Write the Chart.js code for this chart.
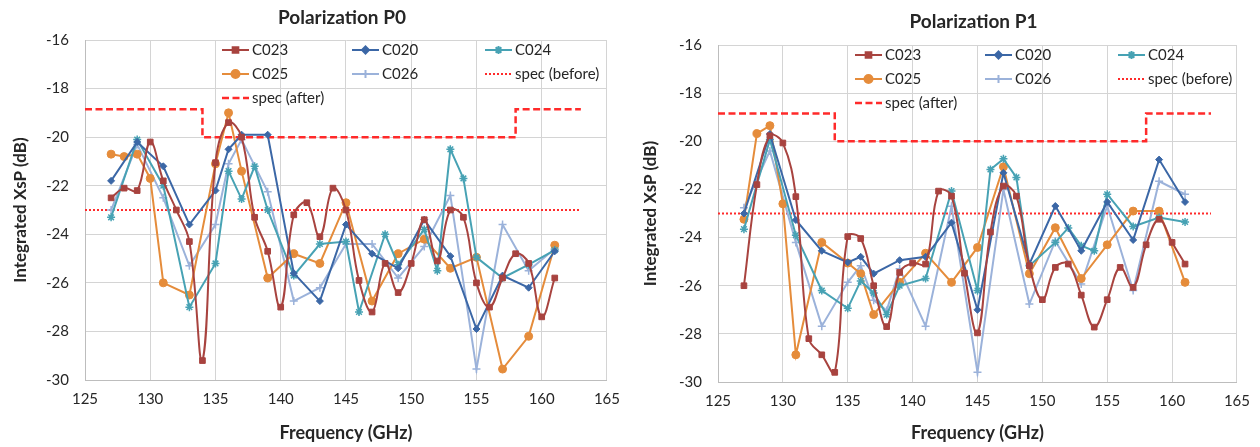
<!DOCTYPE html>
<html>
<head>
<meta charset="utf-8">
<script src="https://cdn.jsdelivr.net/npm/chart.js@4.4.1/dist/chart.umd.min.js"></script>
<style>
    html, body { margin: 0; padding: 0; background: #fff; }
    .panel { position: absolute; top: 0; width: 630px; height: 447px; }
</style>
</head>
<body>
<div class="panel" style="left:0"><canvas id="p0" width="630" height="447"></canvas></div>
<div class="panel" style="left:630px"><canvas id="p1" width="630" height="447"></canvas></div>
<script>
const FREQ_ALL = [127,128,129,130,131,132,133,134,135,136,137,138,139,140,141,142,143,144,145,146,147,148,149,150,151,152,153,154,155,156,157,158,159,160,161];
const X_TICKS = [125, 130, 135, 140, 145, 150, 155, 160, 165];
const Y_TICKS = [-30, -28, -26, -24, -22, -20, -18, -16];

// Polarization P0
const P0_C023 = [-22.5,-22.1,-22.2,-20.2,-21.8,-23.0,-24.3,-29.2,-21.05,-19.4,-20.0,-23.3,-24.7,-27.0,-23.2,-22.7,-24.1,-22.1,-23.0,-25.9,-27.2,-25.2,-26.4,-25.2,-23.4,-25.1,-23.0,-23.3,-26.0,-27.0,-25.8,-24.8,-25.2,-27.4,-25.8];
const P0_C020_X = [127,129,131,133,135,136,137,139,141,143,145,147,149,151,153,155,157,159,161];
const P0_C020 = [-21.8,-20.2,-21.2,-23.6,-22.2,-20.5,-19.9,-19.9,-25.6,-26.75,-23.6,-24.8,-25.4,-23.4,-24.9,-27.9,-25.7,-26.2,-24.7];
const P0_C024_X = [127,129,131,133,135,136,137,138,139,141,143,145,146,148,149,151,152,153,154,155,157,159,161];
const P0_C024 = [-23.3,-20.1,-22.0,-27.0,-25.2,-21.4,-22.55,-21.2,-23.0,-25.7,-24.4,-24.3,-27.2,-24.0,-25.25,-23.8,-25.5,-20.5,-21.7,-24.95,-25.8,-25.25,-24.65];
const P0_C025_X = [127,128,129,130,131,133,135,136,137,139,141,143,145,147,149,151,153,155,157,159,161];
const P0_C025 = [-20.7,-20.8,-20.7,-21.7,-26.0,-26.5,-21.1,-19.0,-21.4,-25.8,-24.8,-25.2,-22.7,-26.75,-24.8,-24.2,-25.4,-24.95,-29.55,-28.2,-24.45];
const P0_C026_X = [127,129,131,133,135,136,137,139,141,143,145,147,149,151,153,155,157,159,161];
const P0_C026 = [-23.0,-20.3,-22.5,-25.3,-23.6,-21.1,-20.1,-22.25,-26.75,-26.2,-24.4,-24.4,-25.8,-24.5,-22.4,-29.55,-23.6,-25.5,-24.6];

// Polarization P1
const P1_C023 = [-26.0,-21.8,-19.77,-20.07,-22.3,-28.2,-28.87,-29.6,-23.96,-24.04,-26.0,-27.7,-25.45,-25.06,-25.1,-22.07,-22.28,-25.48,-27.96,-23.77,-21.86,-22.28,-25.17,-26.58,-25.24,-25.1,-26.39,-27.72,-26.58,-25.24,-26.07,-24.3,-23.24,-24.2,-25.1];
const P1_C020_X = [127,129,131,133,135,136,137,139,141,143,145,147,149,151,153,155,157,159,161];
const P1_C020 = [-23.0,-19.7,-23.27,-24.55,-25.03,-24.8,-25.5,-24.94,-24.8,-23.38,-27.0,-21.31,-25.1,-22.69,-24.55,-22.52,-24.1,-20.76,-22.52];
const P1_C024_X = [127,129,131,133,135,136,137,138,139,141,143,145,146,147,148,149,151,152,153,154,155,157,159,161];
const P1_C024 = [-23.65,-19.93,-23.9,-26.2,-26.94,-25.8,-26.3,-27.2,-26.0,-25.7,-22.07,-26.2,-21.17,-20.73,-21.5,-25.17,-24.2,-23.6,-24.34,-24.55,-22.2,-23.54,-23.17,-23.35];
const P1_C025_X = [127,128,129,130,131,133,135,136,137,139,141,143,145,147,149,151,153,155,157,159,161];
const P1_C025 = [-23.24,-19.68,-19.35,-22.6,-28.87,-24.2,-25.06,-25.5,-27.2,-25.86,-24.65,-25.86,-24.41,-21.06,-25.5,-23.59,-25.7,-24.3,-22.9,-22.9,-25.86];
const P1_C026_X = [127,129,131,133,135,136,137,138,139,141,143,145,147,149,151,153,155,157,159,161];
const P1_C026 = [-22.76,-20.4,-24.2,-27.68,-25.86,-25.17,-26.6,-27.03,-25.3,-27.68,-22.7,-29.59,-22.0,-26.76,-24.14,-25.93,-22.69,-26.2,-21.66,-22.2];

// spec limits (same for both polarizations)
const SPEC_AFTER_X = [125, 134, 134, 158, 158, 163];
const SPEC_AFTER = [-18.85, -18.85, -20, -20, -18.85, -18.85];
const SPEC_BEFORE_X = [125, 163];
const SPEC_BEFORE = [-23, -23];

const FONT = "Lato, 'Open Sans', sans-serif";
const TEXT = '#262626';

const STYLES = {
    C023: { color: '#A8433F', marker: 'rect', radius: 4, tension: 0.4 },
    C020: { color: '#3B67A6', marker: 'rectRot', radius: 3.5, tension: 0 },
    C024: { color: '#47A2B4', marker: 'star', radius: 4, tension: 0 },
    C025: { color: '#E58C3B', marker: 'circle', radius: 4, tension: 0 },
    C026: { color: '#9BB2DA', marker: 'cross', radius: 4, tension: 0 }
};

function toPoints(xs, ys) {
    return xs.map((x, i) => ({ x: x, y: ys[i] }));
}

function seriesDataset(name, xs, ys) {
    const s = STYLES[name];
    return {
        label: name,
        data: toPoints(xs, ys),
        borderColor: s.color,
        backgroundColor: s.color,
        borderWidth: 2,
        pointStyle: s.marker,
        pointRadius: s.radius,
        pointBorderWidth: s.marker === 'star' || s.marker === 'cross' ? 1.5 : 1,
        pointBackgroundColor: s.color,
        pointBorderColor: s.color,
        tension: s.tension
    };
}

function specDatasets() {
    return [
        {
            label: 'spec (before)',
            data: toPoints(SPEC_BEFORE_X, SPEC_BEFORE),
            borderColor: '#FF2A2A',
            borderWidth: 2,
            borderDash: [2, 2],
            pointRadius: 0,
            tension: 0
        },
        {
            label: 'spec (after)',
            data: toPoints(SPEC_AFTER_X, SPEC_AFTER),
            borderColor: '#FF2A2A',
            borderWidth: 2.5,
            borderDash: [7, 3.5],
            pointRadius: 0,
            tension: 0
        }
    ];
}

// legend drawn inside the plot area, 3 columns
const insideLegend = {
    id: 'insideLegend',
    afterDraw(chart) {
        const ctx = chart.ctx;
        const a = chart.chartArea;
        const cols = [137, 267, 400];
        const rows = [10, 34, 58];
        const order = ['C023', 'C020', 'C024', 'C025', 'C026', 'spec (before)', 'spec (after)'];
        ctx.save();
        ctx.font = '15px ' + FONT;
        ctx.textBaseline = 'middle';
        order.forEach((name, i) => {
            const x = a.left + cols[i % 3];
            const y = a.top + rows[Math.floor(i / 3)];
            const ds = chart.data.datasets.find(d => d.label === name);
            ctx.strokeStyle = ds.borderColor;
            ctx.fillStyle = ds.borderColor;
            ctx.lineWidth = ds.borderWidth;
            ctx.setLineDash(ds.borderDash || []);
            ctx.beginPath();
            ctx.moveTo(x, y);
            ctx.lineTo(x + 27, y);
            ctx.stroke();
            ctx.setLineDash([]);
            if (ds.pointRadius) {
                Chart.helpers.drawPoint(ctx, {
                    pointStyle: ds.pointStyle,
                    radius: ds.pointRadius,
                    borderWidth: ds.pointBorderWidth,
                    rotation: 0
                }, x + 13.5, y);
            }
            ctx.fillStyle = TEXT;
            ctx.fillText(name, x + 30, y);
        });
        ctx.restore();
    }
};

const panelTitle = {
    id: 'panelTitle',
    afterDraw(chart) {
        const ctx = chart.ctx;
        const a = chart.chartArea;
        ctx.save();
        ctx.font = 'bold 19px ' + FONT;
        ctx.fillStyle = TEXT;
        ctx.textAlign = 'center';
        ctx.textBaseline = 'middle';
        ctx.fillText(chart.options.panelTitle, (a.left + a.right) / 2 - 4, chart.options.panelTitleY);
        ctx.restore();
    }
};

function makeChart(id, title, layout, sets) {
    const ctx = document.getElementById(id).getContext('2d');
    return new Chart(ctx, {
        type: 'line',
        data: { datasets: sets },
        options: {
            responsive: false,
            animation: false,
            panelTitle: title,
            panelTitleY: layout.titleY,
            layout: { padding: { top: layout.top, right: 17, left: 0, bottom: 0 } },
            plugins: { legend: { display: false }, tooltip: { enabled: false } },
            scales: {
                x: {
                    type: 'linear',
                    min: 125,
                    max: 165,
                    afterBuildTicks: scale => { scale.ticks = X_TICKS.map(v => ({ value: v })); },
                    afterFit: scale => { scale.height = layout.xHeight; },
                    grid: { color: '#d4d4d4', drawTicks: false },
                    border: { color: '#bdbdbd' },
                    ticks: { color: TEXT, font: { family: FONT, size: 15 }, padding: 10 },
                    title: { display: true, text: 'Frequency (GHz)', color: TEXT, font: { family: FONT, size: 18, weight: 'bold' }, padding: { top: 0, bottom: 3 } }
                },
                y: {
                    min: -30,
                    max: -16,
                    afterBuildTicks: scale => { scale.ticks = Y_TICKS.map(v => ({ value: v })); },
                    afterFit: scale => { scale.width = layout.yWidth; },
                    grid: { color: '#d4d4d4', drawTicks: false },
                    border: { color: '#bdbdbd' },
                    ticks: { color: TEXT, font: { family: FONT, size: 15 }, padding: 16 },
                    title: { display: true, text: 'Integrated XsP (dB)', color: TEXT, font: { family: FONT, size: 17, weight: 'bold' }, padding: { top: 10, bottom: 0 } }
                }
            }
        },
        plugins: [insideLegend, panelTitle]
    });
}

makeChart('p0', 'Polarization P0', { top: 40, titleY: 18, xHeight: 67, yWidth: 85 }, [
    seriesDataset('C023', FREQ_ALL, P0_C023),
    seriesDataset('C020', P0_C020_X, P0_C020),
    seriesDataset('C024', P0_C024_X, P0_C024),
    seriesDataset('C025', P0_C025_X, P0_C025),
    seriesDataset('C026', P0_C026_X, P0_C026)
].concat(specDatasets()));

makeChart('p1', 'Polarization P1', { top: 45, titleY: 22, xHeight: 65, yWidth: 88 }, [
    seriesDataset('C023', FREQ_ALL, P1_C023),
    seriesDataset('C020', P1_C020_X, P1_C020),
    seriesDataset('C024', P1_C024_X, P1_C024),
    seriesDataset('C025', P1_C025_X, P1_C025),
    seriesDataset('C026', P1_C026_X, P1_C026)
].concat(specDatasets()));
</script>
</body>
</html>
